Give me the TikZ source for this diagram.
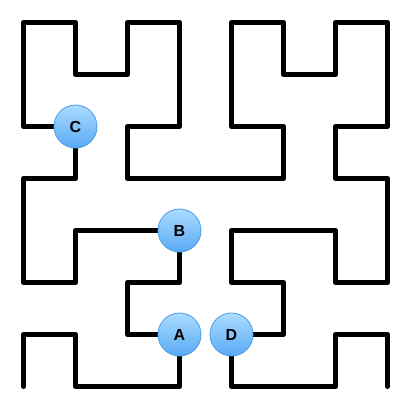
\documentclass[tikz,border=0pt]{standalone}
\usepackage{fontspec}
\setmainfont{Liberation Sans}
\begin{document}
\begin{tikzpicture}[x=52pt,y=-52pt,
  curve/.style={line width=5pt,line cap=round,line join=round,black},
  marker/.style={circle,minimum size=43pt,inner sep=0pt,line width=0.8pt,
    draw={rgb,255:red,74;green,155;blue,232},
    top color={rgb,255:red,172;green,220;blue,255},
    bottom color={rgb,255:red,88;green,170;blue,245},
    font=\fontsize{16}{16}\selectfont\bfseries,text=black}]
\useasboundingbox (-23.5pt,22.5pt) rectangle (384.5pt,-385.5pt);
\foreach \i in {0,...,7}{\foreach \j in {0,...,7}{\coordinate (p\i\j) at (\i,\j);}}
\draw[curve] (p07)--(p06)--(p16)--(p17)--(p37)--(p36)--(p26)--(p25)--(p35)--(p34)
 --(p14)--(p15)--(p05)--(p03)--(p13)--(p12)--(p02)--(p00)--(p10)--(p11)--(p21)
 --(p20)--(p30)--(p32)--(p22)--(p23)--(p53)--(p52)--(p42)--(p40)--(p50)--(p51)
 --(p61)--(p60)--(p70)--(p72)--(p62)--(p63)--(p73)--(p75)--(p65)--(p64)--(p44)
 --(p45)--(p55)--(p56)--(p46)--(p47)--(p67)--(p66)--(p76)--(p77);
\node[marker] (A) at (p36) {A};
\node[marker] (B) at (p34) {B};
\node[marker] (C) at (p12) {C};
\node[marker] (D) at (p46) {D};
\end{tikzpicture}
\end{document}
